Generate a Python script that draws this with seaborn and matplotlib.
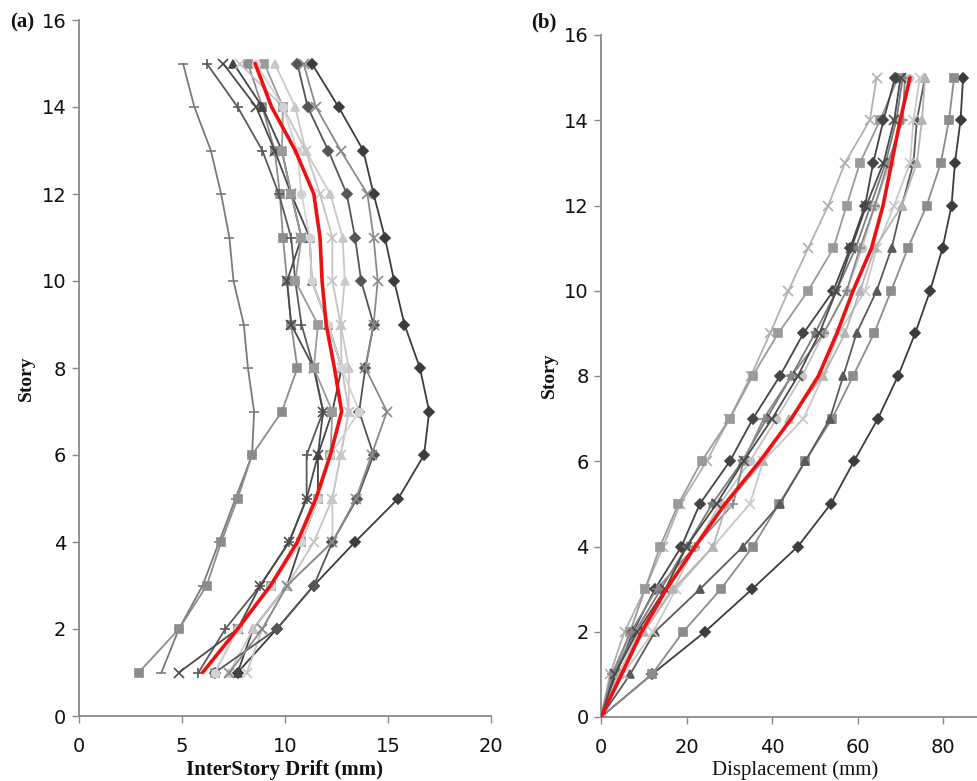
import numpy as np
import pandas as pd
import matplotlib
matplotlib.use("Agg")
import matplotlib.pyplot as plt
import seaborn as sns

sns.set_theme(style="white")
plt.rcParams['font.family'] = ['Liberation Sans Narrow', 'DejaVu Sans']

# ---------------- data ----------------
stories_a = list(range(1, 16))
stories_b = list(range(0, 16))

# (a) inter-story drift (mm), stories 1..15
drift_A = [4.0, 4.85, 6.0, 6.8, 7.6, 8.4, 8.5, 8.2, 8.0, 7.5, 7.3, 6.9, 6.4, 5.6, 5.05]
drift_B = [2.9, 4.85, 6.2, 6.9, 7.7, 8.4, 9.85, 10.6, 10.3, 10.1, 9.9, 9.75, 9.5, 8.9, 8.2]
drift_C = [7.7, 9.6, 11.4, 13.4, 15.5, 16.75, 17.0, 16.55, 15.8, 15.3, 14.85, 14.3, 13.8, 12.6, 11.3]
drift_D = [5.8, 7.1, 8.8, 10.2, 11.05, 11.05, 11.85, 11.4, 10.8, 10.5, 10.3, 9.7, 8.9, 7.7, 6.2]
drift_E = [4.85, 7.7, 8.8, 10.2, 11.05, 11.6, 11.85, 11.4, 10.3, 10.1, 10.8, 10.3, 9.5, 8.6, 7.0]
drift_F = [7.7, 8.45, 10.1, 10.8, 11.6, 11.6, 12.3, 12.75, 12.1, 11.3, 11.2, 10.3, 9.85, 8.9, 7.5]
drift_G = [8.15, 8.9, 10.1, 11.4, 12.3, 12.7, 13.1, 12.75, 12.7, 12.3, 12.3, 11.7, 11.0, 9.9, 7.8]
drift_H = [6.6, 7.7, 9.3, 10.8, 11.6, 12.2, 12.3, 11.4, 11.6, 10.5, 10.8, 10.3, 9.85, 9.9, 9.0]
drift_I = [7.3, 8.45, 10.1, 12.3, 12.3, 12.7, 13.1, 13.1, 12.7, 12.9, 12.8, 12.2, 11.0, 10.5, 9.5]
drift_J = [6.6, 9.6, 11.4, 12.3, 13.5, 14.3, 13.6, 13.9, 14.3, 13.7, 13.4, 13.0, 12.1, 11.1, 10.6]
drift_K = [7.3, 8.9, 10.1, 12.3, 13.45, 14.2, 14.95, 13.9, 14.3, 14.5, 14.3, 14.0, 12.7, 11.5, 10.9]
drift_L = [6.6, 7.7, 9.3, 10.8, 11.6, 12.2, 13.6, 12.75, 12.1, 11.3, 11.2, 10.8, 10.6, 9.9, 8.6]
drift_mean = [6.0, 7.7, 9.3, 10.6, 11.5, 12.2, 12.75, 12.4, 12.0, 11.8, 11.7, 11.4, 10.5, 9.35, 8.55]

# (b) displacement (mm), stories 0..15
disp_1 = [0, 11.9, 24.3, 35.3, 46.0, 53.7, 59.1, 64.7, 69.4, 73.4, 76.9, 79.8, 81.9, 82.7, 84.0, 84.6]
disp_2 = [0, 11.9, 19.2, 28.0, 35.5, 41.6, 47.7, 54.0, 58.9, 63.8, 67.8, 71.7, 76.1, 79.4, 81.3, 82.5]
disp_3 = [0, 6.8, 12.6, 23.1, 33.2, 41.8, 47.7, 53.5, 56.6, 59.7, 64.4, 67.9, 70.3, 73.0, 73.8, 75.7]
disp_4 = [0, 2.1, 5.5, 10.3, 14.5, 18.5, 24.7, 30.0, 35.0, 39.5, 43.8, 48.4, 53.1, 57.0, 62.8, 64.4]
disp_5 = [0, 3.0, 6.8, 10.3, 13.8, 18.1, 23.5, 30.1, 35.4, 41.4, 48.4, 54.3, 57.4, 60.5, 65.2, 69.4]
disp_6 = [0, 3.5, 7.5, 12.6, 18.8, 23.1, 30.1, 35.5, 41.8, 47.3, 54.3, 58.2, 61.7, 63.6, 66.0, 68.7]
disp_7 = [0, 3.0, 8.0, 14.0, 20.0, 26.0, 33.0, 38.7, 44.5, 50.0, 55.0, 59.5, 63.0, 66.5, 69.0, 70.5]
disp_8 = [0, 4.0, 9.0, 16.9, 22.0, 27.8, 34.8, 41.0, 47.0, 52.0, 57.4, 61.0, 64.0, 67.5, 70.0, 72.0]
disp_9 = [0, 5.2, 12.2, 17.5, 26.2, 34.8, 37.9, 47.3, 51.9, 55.5, 61.7, 64.4, 68.5, 72.2, 73.0, 74.5]
disp_10 = [0, 2.5, 7.0, 13.0, 22.0, 30.9, 33.3, 38.0, 44.5, 52.0, 57.4, 60.5, 64.0, 67.0, 70.5, 71.0]
disp_11 = [0, 3.2, 8.5, 15.0, 20.0, 27.0, 33.3, 40.0, 46.0, 51.0, 55.0, 58.5, 62.0, 66.0, 68.5, 70.0]
disp_12 = [0, 4.5, 10.0, 16.9, 26.2, 29.4, 37.9, 44.0, 51.9, 57.0, 60.5, 64.0, 70.3, 73.8, 75.0, 75.7]
disp_mean = [0, 4.8, 9.5, 15.3, 22.0, 29.0, 37.1, 44.5, 50.8, 55.1, 58.9, 63.2, 65.9, 67.9, 69.9, 72.2]

x_ticks_a = [0, 5, 10, 15, 20]
x_ticks_b = [0, 20, 40, 60, 80]
y_ticks = [0, 2, 4, 6, 8, 10, 12, 14, 16]

# styles: (color, marker)
styles_a = [
    (drift_A, "#7a7a7a", "_"), (drift_B, "#8c8c8c", "s"), (drift_C, "#3c3c3c", "D"),
    (drift_D, "#5a5a5a", "+"), (drift_E, "#4a4a4a", "x"), (drift_F, "#444444", "^"),
    (drift_G, "#c4c4c4", "x"), (drift_H, "#9a9a9a", "s"), (drift_I, "#c8c8c8", "^"),
    (drift_J, "#555555", "D"), (drift_K, "#8a8a8a", "x"), (drift_L, "#d2d2d2", "o"),
]
styles_b = [
    (disp_1, "#3c3c3c", "D"), (disp_2, "#8c8c8c", "s"), (disp_3, "#5a5a5a", "^"),
    (disp_4, "#b0b0b0", "x"), (disp_5, "#9a9a9a", "s"), (disp_6, "#444444", "D"),
    (disp_7, "#7a7a7a", "*"), (disp_8, "#c4c4c4", "o"), (disp_9, "#c8c8c8", "x"),
    (disp_10, "#8a8a8a", "+"), (disp_11, "#4a4a4a", "x"), (disp_12, "#b4b4b4", "^"),
]

W, H = 978, 781
fig = plt.figure(figsize=(W / 100, H / 100), dpi=100)

def fx(px):
    return px / W

def fy(py):
    return 1 - py / H

ax_a = fig.add_axes([fx(79), fy(716), fx(491) - fx(79), fy(20) - fy(716)])
ax_b = fig.add_axes([fx(601), fy(717), fx(978) - fx(601), fy(35) - fy(717)])

def draw(ax, series, stories, mean_vals):
    for vals, col, mk in series:
        df = pd.DataFrame({"x": vals, "y": stories})
        ms = 5.5 if mk not in ("x", "+", "_", "*") else 6.5
        sns.lineplot(data=df, x="x", y="y", sort=False, estimator=None, ax=ax,
                     color=col, linewidth=1.3, marker=mk, markersize=ms,
                     markeredgecolor=col, markerfacecolor=col, markeredgewidth=1.2,
                     zorder=2)
    dfm = pd.DataFrame({"x": mean_vals, "y": stories})
    sns.lineplot(data=dfm, x="x", y="y", sort=False, estimator=None, ax=ax,
                 color="#ee1111", linewidth=2.6, zorder=5)

draw(ax_a, styles_a, stories_a, drift_mean)
draw(ax_b, styles_b, stories_b, disp_mean)

ax_a.set_xlim(0, 20)
ax_a.set_ylim(0, 16)
ax_b.set_xlim(0, (978 - 601) / 4.28)
ax_b.set_ylim(0, 16)
ax_a.set_xticks(x_ticks_a)
ax_b.set_xticks(x_ticks_b)
for ax in (ax_a, ax_b):
    ax.set_yticks(y_ticks)
    ax.set_xlabel("")
    ax.set_ylabel("")
    for s in ("top", "right"):
        ax.spines[s].set_visible(False)
    for s in ("left", "bottom"):
        ax.spines[s].set_color("#8a8a8a")
        ax.spines[s].set_linewidth(1.3)
    ax.tick_params(axis="both", which="major", direction="out", length=5,
                   width=1.0, color="#8a8a8a", labelsize=14, labelcolor="#111111",
                   left=True, bottom=True, pad=4)
    ax.set_facecolor("none")
    ax.grid(False)
ax_a.tick_params(axis="x", pad=10)
ax_b.tick_params(axis="x", pad=10)

serif = ['Liberation Serif', 'DejaVu Serif']
fig.text(fx(285), fy(770), "InterStory Drift (mm)", ha="center", va="center",
         fontsize=15, fontweight="bold", family=serif, color="#111111")
fig.text(fx(795), fy(770), "Displacement (mm)", ha="center", va="center",
         fontsize=15, family=serif, color="#111111")
fig.text(fx(26), fy(378), "Story", ha="center", va="center", rotation=90,
         fontsize=14, fontweight="bold", family=serif, color="#111111")
fig.text(fx(549), fy(375), "Story", ha="center", va="center", rotation=90,
         fontsize=14, fontweight="bold", family=serif, color="#111111")
fig.text(fx(22), fy(22), "(a)", ha="center", va="center",
         fontsize=15, fontweight="bold", family=serif, color="#111111")
fig.text(fx(544), fy(22), "(b)", ha="center", va="center",
         fontsize=15, fontweight="bold", family=serif, color="#111111")

fig.savefig("out.png", dpi=100, facecolor="white")
